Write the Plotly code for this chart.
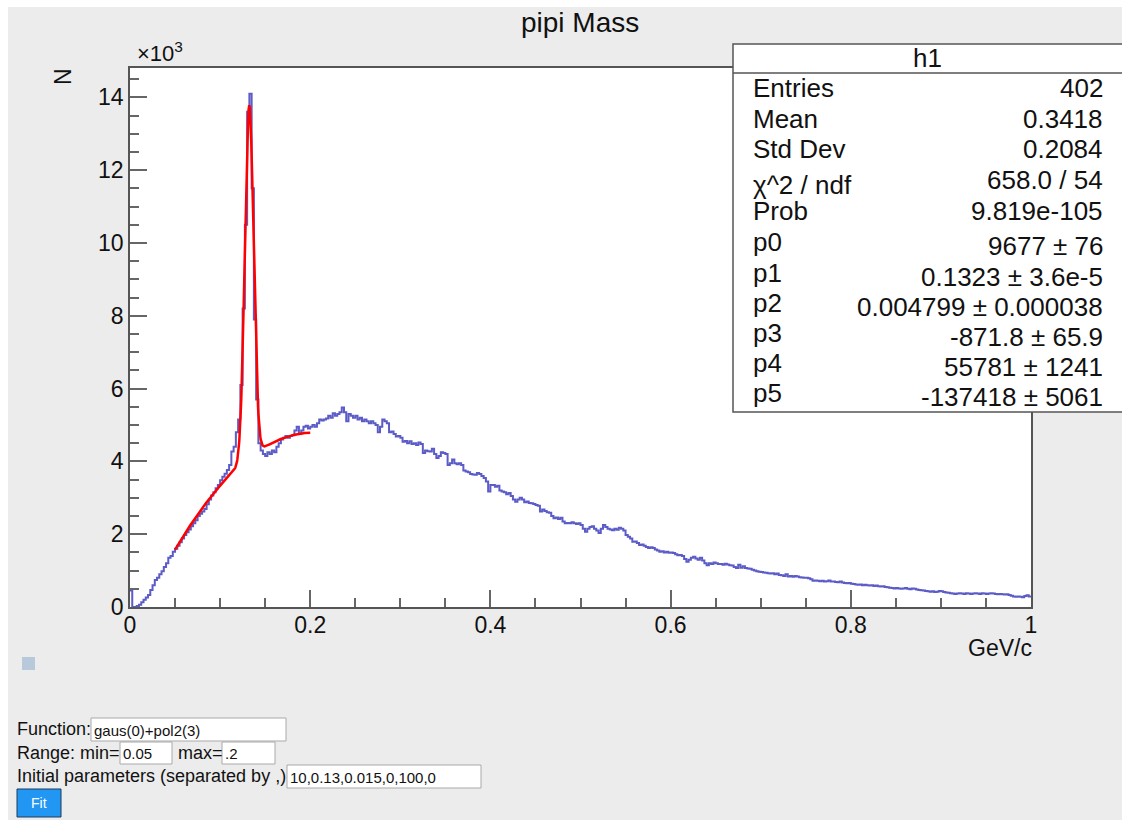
import numpy as np
import plotly.graph_objects as go

# ---------------- data ----------------
bin_lo, bin_hi = 0.0, 1.0
counts = [
    450, 0, 0, 30, 60, 130, 200, 260, 330, 470, 600, 740, 800, 900, 980, 1100, 1200, 1350, 1400, 1520,
    1600, 1680, 1780, 1880, 1980, 2050, 2130, 2220, 2300, 2380, 2500, 2560, 2620, 2690, 2820, 2950, 3060, 3150, 3260, 3350,
    3480, 3580, 3660, 3760, 3900, 4270, 4400, 4800, 5150, 6100, 8200, 10500, 13600, 14100, 11500, 7900, 5700, 4500, 4300, 4200,
    4150, 4250, 4200, 4300, 4250, 4400, 4500, 4600, 4650, 4700, 4650, 4700, 4720, 4850, 4950, 4750, 4850, 4950, 4980, 4900,
    4950, 5000, 4950, 5050, 5150, 5120, 5150, 5180, 5250, 5200, 5320, 5250, 5300, 5350, 5480, 5350, 5100, 5300, 5250, 5200,
    5250, 5150, 5200, 5100, 5150, 5100, 5050, 5100, 5050, 5000, 4800, 4950, 5150, 5100, 5050, 4800, 4820, 4750, 4680, 4700,
    4650, 4540, 4560, 4500, 4550, 4480, 4500, 4450, 4520, 4480, 4230, 4300, 4280, 4270, 4350, 4200, 4090, 4150, 4250, 4230,
    4200, 3900, 3950, 4050, 3950, 3920, 3950, 3900, 3750, 3720, 3700, 3650, 3640, 3630, 3680, 3650, 3600, 3540, 3450, 3170,
    3350, 3350, 3300, 3330, 3200, 3170, 3150, 3100, 3130, 3050, 2950, 2890, 2950, 3000, 2950, 2880, 2900, 2860, 2850, 2830,
    2800, 2780, 2620, 2680, 2640, 2600, 2590, 2500, 2440, 2460, 2420, 2450, 2350, 2300, 2310, 2300, 2330, 2300, 2280, 2300,
    2250, 2150, 2070, 2150, 2200, 2220, 2150, 2100, 2030, 2150, 2250, 2200, 2150, 2130, 2110, 2150, 2120, 2180, 2150, 2100,
    1980, 1930, 1880, 1790, 1800, 1760, 1700, 1720, 1680, 1650, 1620, 1640, 1620, 1580, 1550, 1520, 1530, 1500, 1520, 1490,
    1500, 1480, 1450, 1420, 1430, 1400, 1320, 1240, 1300, 1350, 1380, 1330, 1300, 1350, 1280, 1200, 1150, 1200, 1180, 1220,
    1200, 1180, 1180, 1160, 1190, 1170, 1150, 1140, 1100, 1070, 1160, 1080, 1120, 1070, 1060, 1050, 1020, 1000, 980, 970,
    960, 950, 940, 930, 920, 930, 900, 920, 880, 870, 850, 900, 840, 850, 830, 850, 840, 820, 810, 800,
    800, 790, 760, 720, 730, 720, 710, 720, 700, 710, 730, 700, 700, 690, 680, 700, 670, 660, 650, 660,
    640, 630, 620, 610, 620, 600, 610, 600, 590, 600, 580, 590, 570, 560, 570, 550, 540, 530, 520, 510,
    520, 510, 500, 510, 520, 500, 490, 510, 500, 480, 470, 460, 450, 440, 430, 420, 430, 410, 420, 440,
    430, 410, 400, 390, 380, 370, 360, 370, 380, 370, 360, 380, 370, 360, 370, 380, 370, 360, 375, 370,
    360, 370, 380, 370, 360, 350, 360, 350, 340, 350, 330, 310, 290, 280, 290, 280, 270, 300, 320, 290,
]

# fit: gaus(0)+pol2(3), range
fit_params = [9677, 0.1323, 0.004799, -871.8, 55781, -137418]
fit_range = [0.05, 0.2]

x_ticks = [0, 0.2, 0.4, 0.6, 0.8, 1.0]
x_ticktext = ["0", "0.2", "0.4", "0.6", "0.8", "1"]
y_ticks = [0, 2000, 4000, 6000, 8000, 10000, 12000, 14000]
y_ticktext = ["0", "2", "4", "6", "8", "10", "12", "14"]

stat_labels = ["Entries", "Mean", "Std Dev", "\u03c7^2 / ndf", "Prob", "p0", "p1", "p2", "p3", "p4", "p5"]
stat_values = ["402", "0.3418", "0.2084", "658.0 / 54", "9.819e-105", "9677 \u00b1 76",
               "0.1323 \u00b1 3.6e-5", "0.004799 \u00b1 0.000038", "-871.8 \u00b1 65.9",
               "55781 \u00b1 1241", "-137418 \u00b1 5061"]

# ---------------- geometry ----------------
W, H = 1122, 820
L, R, T, B = 130, 1031, 68, 607
PW, PH = R - L, B - T
FONT = "Liberation Sans, Arial, sans-serif"


def px(xp):
    return (xp - L) / PW


def py(yp):
    return (B - yp) / PH


counts = np.array(counts, dtype=float)
nb = len(counts)
edges = np.linspace(bin_lo, bin_hi, nb + 1)
ystep = np.append(counts, counts[-1])

xf = np.linspace(fit_range[0], fit_range[1], 400)
p = fit_params
yf = p[0] * np.exp(-0.5 * ((xf - p[1]) / p[2]) ** 2) + p[3] + p[4] * xf + p[5] * xf ** 2

fig = go.Figure()
fig.add_trace(go.Scatter(x=edges, y=ystep, mode="lines", line=dict(shape="hv", color="rgb(92,92,200)", width=2),
                         hoverinfo="skip", showlegend=False))
fig.add_trace(go.Scatter(x=xf, y=yf, mode="lines", line=dict(color="#ff0000", width=2.5),
                         hoverinfo="skip", showlegend=False))

axis_common = dict(showgrid=False, zeroline=False, showline=True, mirror=True, linecolor="#555",
                   linewidth=1.5, ticks="inside", ticklen=17, tickwidth=1.5, tickcolor="#666",
                   tickfont=dict(family=FONT, size=23, color="#111"))

ymax = 14805
fig.update_xaxes(range=[bin_lo, bin_hi], tickvals=x_ticks, ticktext=x_ticktext,
                 minor=dict(dtick=0.05, tick0=0, ticklen=9, tickwidth=1.5, tickcolor="#666", ticks="inside"),
                 ticklabelstandoff=-3, **axis_common)
fig.update_yaxes(range=[0, ymax], tickvals=y_ticks, ticktext=y_ticktext,
                 minor=dict(dtick=500, tick0=0, ticklen=9, tickwidth=1.5, tickcolor="#666", ticks="inside"),
                 ticklabelstandoff=0, **axis_common)

shapes = []
ann = []


def rect(x0, y0, x1, y1, fill, line="rgba(0,0,0,0)", lw=0):
    shapes.append(dict(type="rect", xref="paper", yref="paper", x0=px(x0), x1=px(x1), y0=py(y1), y1=py(y0),
                       fillcolor=fill, line=dict(color=line, width=lw), layer="above"))


def text(s, x, y, size, xanchor="left", color="#111", yanchor="middle", angle=0):
    ann.append(dict(text=s, x=px(x), y=py(y), xref="paper", yref="paper", xanchor=xanchor, yanchor=yanchor,
                    showarrow=False, textangle=angle, borderpad=0,
                    font=dict(family=FONT, size=size, color=color)))


# page white margins
rect(0, 0, W, 7, "white")
rect(0, 0, 8, H, "white")

# title and axis titles
text("pipi Mass", 580, 22, 28, xanchor="center")
text("\u00d710<sup>3</sup>", 136, 52, 22)
text("N", 63, 77, 23, xanchor="center", angle=-90)
text("GeV/c", 1033, 648, 23, xanchor="right")

# stats box
rect(733, 44, 1123, 412, "white", "#555", 1.5)
shapes.append(dict(type="line", xref="paper", yref="paper", x0=px(733), x1=px(1123), y0=py(73), y1=py(73),
                   line=dict(color="#555", width=1.5), layer="above"))
text("h1", 927, 58, 26, xanchor="center")
label_y = [88, 119, 149, 185, 211, 242, 273, 303, 333, 363, 393]
value_y = [88, 119, 149, 180, 211, 246, 277, 307, 337, 367, 397]
for lab, ly in zip(stat_labels, label_y):
    text(lab, 752, ly, 26)
for val, vy in zip(stat_values, value_y):
    text(val, 1104, vy, 26, xanchor="right")

# bottom widgets
rect(22, 657, 35, 670, "#b8c9db")
text("Function:", 16, 729, 18)
rect(91, 718, 286, 741, "white", "#a9a9a9", 1)
text("gaus(0)+pol2(3)", 93, 730, 15)
text("Range: min=", 16, 753, 18)
rect(120, 742, 172, 764, "white", "#a9a9a9", 1)
text("0.05", 122, 753, 15)
text("max=", 177, 753, 18)
rect(222, 742, 275, 764, "white", "#a9a9a9", 1)
text(".2", 224, 753, 15)
text("Initial parameters (separated by ,)", 16, 776, 18)
rect(287, 765, 481, 788, "white", "#a9a9a9", 1)
text("10,0.13,0.015,0,100,0", 289, 777, 15)
rect(17, 789, 61, 817, "#2196f3", "#1d3c5c", 1)
text("Fit", 39, 803, 14, xanchor="center", color="white")

fig.update_layout(width=W, height=H, margin=dict(l=L, r=W - R, t=T, b=H - B, pad=0),
                  paper_bgcolor="#ececec", plot_bgcolor="white", shapes=shapes, annotations=ann,
                  showlegend=False)
fig.write_html("out.html")
